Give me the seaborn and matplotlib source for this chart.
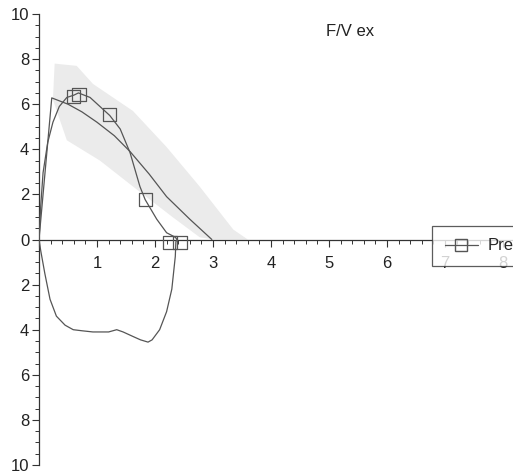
import matplotlib
matplotlib.use("Agg")
import matplotlib.pyplot as plt
from matplotlib.lines import Line2D
from matplotlib.ticker import MultipleLocator, FuncFormatter
import seaborn as sns
import pandas as pd

# predicted flow-volume curve
pred_vol = [0, 0.22, 0.5, 0.74, 1.0, 1.3, 1.57, 1.9, 2.2, 2.6, 2.98]
pred_flow = [0, 6.28, 6.0, 5.66, 5.2, 4.6, 3.9, 2.9, 1.9, 0.9, 0]

# measured expiratory + inspiratory loop
exp_vol = [0, 0.03, 0.07, 0.15, 0.24, 0.35, 0.48, 0.6, 0.68, 0.88, 1.05, 1.22,
           1.4, 1.57, 1.74, 1.83, 2.03, 2.2, 2.35, 2.38]
exp_flow = [0, 1.5, 2.96, 4.3, 5.2, 5.9, 6.3, 6.4, 6.5, 6.3, 5.9, 5.5,
            4.9, 3.85, 2.35, 1.77, 0.9, 0.3, 0.1, 0]
insp_vol = [2.38, 2.36, 2.35, 2.29, 2.2, 2.08, 1.95, 1.88, 1.75, 1.62, 1.45,
            1.34, 1.2, 0.93, 0.75, 0.59, 0.45, 0.3, 0.19, 0.1, 0.03, 0]
insp_flow = [0, -0.1, -0.75, -2.2, -3.2, -4.0, -4.45, -4.55, -4.45, -4.3, -4.1,
             -4.0, -4.1, -4.1, -4.05, -4.0, -3.8, -3.4, -2.65, -1.5, -0.5, 0]

# square markers (Pre)
mark_vol = [0.6, 0.69, 1.22, 1.83, 2.26, 2.43]
mark_flow = [6.33, 6.44, 5.53, 1.77, -0.13, -0.13]

# grey predicted range band (outline)
band_vol = [0.24, 0.27, 0.65, 0.93, 1.62, 2.2, 2.77, 3.35, 3.6,
            3.0, 2.77, 2.3, 1.62, 1.05, 0.48]
band_flow = [6.2, 7.8, 7.7, 6.9, 5.7, 4.1, 2.35, 0.44, 0,
             0, 0.1, 1.0, 2.35, 3.5, 4.4]

sns.set_style("white")
plt.rcParams['font.family'] = ['Liberation Sans', 'DejaVu Sans']

fig = plt.figure(figsize=(5.13, 4.75), dpi=100)
ax = fig.add_axes([39 / 513, 10 / 475, 1 - 39 / 513, 451 / 475])

ax.fill(band_vol, band_flow, color="#ebebeb", lw=0, zorder=1)

line_col = "#555555"
pred = pd.DataFrame({"vol": pred_vol, "flow": pred_flow})
sns.lineplot(data=pred, x="vol", y="flow", sort=False, estimator=None,
             color=line_col, lw=0.9, ax=ax, zorder=3)
meas = pd.DataFrame({"vol": exp_vol + insp_vol[1:], "flow": exp_flow + insp_flow[1:]})
sns.lineplot(data=meas, x="vol", y="flow", sort=False, estimator=None,
             color=line_col, lw=0.9, ax=ax, zorder=3)
sns.scatterplot(x=mark_vol, y=mark_flow, marker="s", s=90, facecolor="none",
                edgecolor=line_col, linewidth=0.9, ax=ax, zorder=4)

ax.set_xlim(0, (513 - 39) / 58)
ax.set_ylim(-10, 10)
ax.set_xlabel("")
ax.set_ylabel("")
ax.spines["left"].set_position(("data", 0))
ax.spines["bottom"].set_position(("data", 0))
ax.spines["top"].set_visible(False)
ax.spines["right"].set_visible(False)
for s in ("left", "bottom"):
    ax.spines[s].set_color("#333333")
    ax.spines[s].set_linewidth(0.9)

ax.xaxis.set_major_locator(MultipleLocator(1))
ax.xaxis.set_minor_locator(MultipleLocator(0.2))
ax.yaxis.set_major_locator(MultipleLocator(2))
ax.yaxis.set_minor_locator(MultipleLocator(0.5))
ax.xaxis.set_major_formatter(FuncFormatter(lambda v, p: "" if v == 0 else f"{v:g}"))
ax.yaxis.set_major_formatter(FuncFormatter(lambda v, p: f"{abs(v):g}"))
ax.tick_params(axis="both", which="both", bottom=True, left=True)
ax.tick_params(axis="both", which="major", direction="out", length=5, width=0.8,
               color="#333333", labelsize=12, labelcolor="#222222")
ax.tick_params(axis="both", which="minor", direction="out", length=3, width=0.7,
               color="#333333")
ax.tick_params(axis="x", which="major", pad=7)
ax.tick_params(axis="y", which="major", pad=2)

fig.text(326 / 513, 1 - 31 / 475, "F/V ex", fontsize=12, color="#222222", va="center")

handle = Line2D([], [], color=line_col, lw=0.9, marker="s", markersize=9,
                markerfacecolor="none", markeredgecolor=line_col)
leg = ax.legend([handle], ["Pre"], loc="upper left", bbox_to_anchor=(432 / 513, 1 - 226 / 475),
                bbox_transform=fig.transFigure, frameon=True, fancybox=False, fontsize=12,
                borderpad=0.75, handlelength=2.0, handletextpad=0.6, borderaxespad=0)
leg.get_frame().set_edgecolor("#333333")
leg.get_frame().set_linewidth(0.9)

fig.savefig("out.png", dpi=100)
